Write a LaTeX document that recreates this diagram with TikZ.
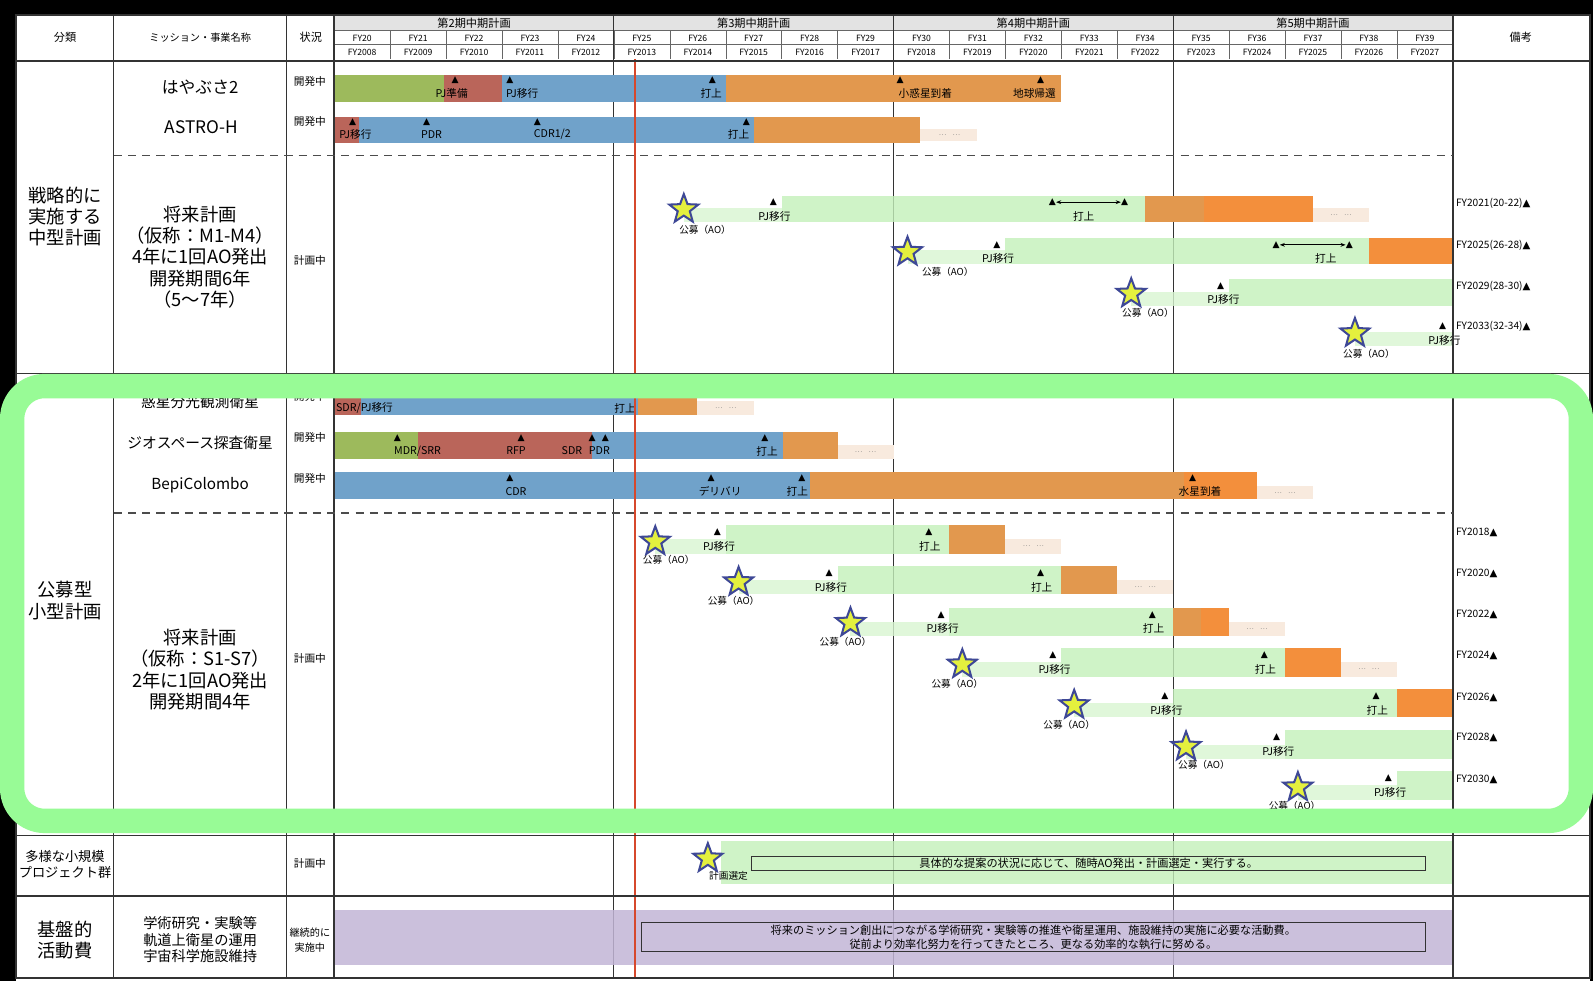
\documentclass[tikz,border=0pt]{standalone}
\usepackage{fontspec}
\setmainfont{Noto Sans CJK JP}
\newfontfamily\symf{DejaVu Sans}
\usetikzlibrary{shapes.geometric,arrows.meta}

\definecolor{devgreen}{RGB}{157,186,92}
\definecolor{devred}{RGB}{186,101,90}
\definecolor{devblue}{RGB}{112,162,202}
\definecolor{devorange}{RGB}{226,152,78}
\definecolor{hotorange}{RGB}{243,143,60}
\definecolor{tailbeige}{RGB}{248,234,222}
\definecolor{planthin}{RGB}{217,246,209}
\definecolor{plantall}{RGB}{196,240,186}
\definecolor{basepurple}{RGB}{194,181,214}
\definecolor{todayred}{RGB}{214,72,44}
\definecolor{framegreen}{RGB}{152,251,150}
\definecolor{staryellow}{RGB}{228,240,62}
\definecolor{starblue}{RGB}{62,72,150}

\tikzset{
  hdr/.style={inner sep=0, font=\fontsize{11}{13}\selectfont},
  fyl/.style={inner sep=0, font=\fontsize{8.5}{10}\selectfont},
  cat/.style={inner sep=0, align=center, font=\fontsize{18}{21}\selectfont},
  mission/.style={inner sep=0, font=\fontsize{15}{18}\selectfont},
  stat/.style={inner sep=0, align=center, font=\fontsize{10.5}{12}\selectfont},
  lbl/.style={inner sep=0, font=\fontsize{10.5}{11}\selectfont},
  tri/.style={inner sep=0, font=\symf\fontsize{9}{9}\selectfont},
  ao/.style={inner sep=0, font=\fontsize{9.5}{11}\selectfont},
  rem/.style={inner sep=0, anchor=west, font=\fontsize{10}{11}\selectfont},
  tailtxt/.style={inner sep=0, text=black!55, font=\fontsize{7}{7}\selectfont},
  thinbar/.style={fill=planthin, fill opacity=.8},
  tallbar/.style={fill=plantall, fill opacity=.8},
  aostar/.style={star, star points=5, star point ratio=2.4, minimum size=30pt, inner sep=0,
    fill=staryellow, draw=starblue, line width=2pt},
  tabline/.style={draw=black!80, line width=1.2pt},
  rowcut/.style={draw=black!70, line width=1.6pt, dash pattern=on 8pt off 6pt},
  notebox/.style={draw=black!80, line width=1pt, inner sep=0, align=center}
}

\begin{document}
\begin{tikzpicture}[x=1pt, y=-1pt, >={Stealth[length=5pt]}]
\fill[black] (0,0) rectangle (1568,966);
\fill[white] (16,15) rectangle (1565,966);

\begin{scope}[shift={(329,0)}, x=55.05pt]
\fill[gray!22] (0,15) rectangle (20,30);
\node[hdr] (term2) at (2.5,22.5) {第2期中期計画};
\node[hdr] (term3) at (7.5,22.5) {第3期中期計画};
\node[hdr] (term4) at (12.5,22.5) {第4期中期計画};
\node[hdr] (term5) at (17.5,22.5) {第5期中期計画};
\draw[black!60] (0,30) -- (20,30) (0,44) -- (20,44);
\foreach \i [evaluate=\i as \h using int(20+\i), evaluate=\i as \w using int(2008+\i)] in {0,...,19} {
  \draw[black!60] (\i,30) -- (\i,58);
  \node[fyl] (fy\h) at (\i+0.5,37.5) {FY\h};
  \node[fyl] (fy\w) at (\i+0.5,51.5) {FY\w};
}
\foreach \t in {5,10,15} \draw[tabline, line width=0.8pt] (\t,15) -- (\t,963);

\fill[devgreen] (0,74) rectangle (1.96,100);
\fill[devred] (1.96,74) rectangle (3,100);
\fill[devblue] (3,74) rectangle (7,100);
\fill[devorange] (7,74) rectangle (13,100);
\node[tri] (hy-a) at (2.16,79) {▲};
\node[tri] (hy-b) at (3.14,79) {▲};
\node[tri] (hy-c) at (6.76,79) {▲};
\node[tri] (hy-d) at (10.12,79) {▲};
\node[tri] (hy-e) at (12.63,79) {▲};
\node[lbl] (hy-al) at (2.1,92) {PJ準備};
\node[lbl] (hy-bl) at (3.36,92) {PJ移行};
\node[lbl] (hy-cl) at (6.74,92) {打上};
\node[lbl] (hy-dl) at (10.57,92) {小惑星到着};
\node[lbl] (hy-el) at (12.52,92) {地球帰還};

\fill[devred] (0,115) rectangle (0.45,141);
\fill[devblue] (0.45,115) rectangle (7.5,141);
\fill[devorange] (7.5,115) rectangle (10.48,141);
\fill[tailbeige] (10.48,127) rectangle (11.5,139);
\node[tailtxt] (ah-tail) at (11,133) {…\hspace{6pt}…};
\node[tri] (ah-a) at (0.33,120) {▲};
\node[tri] (ah-b) at (1.65,120) {▲};
\node[tri] (ah-c) at (3.63,120) {▲};
\node[tri] (ah-d) at (7.37,120) {▲};
\node[lbl] (ah-al) at (0.38,132) {PJ移行};
\node[lbl] (ah-bl) at (1.74,132) {PDR};
\node[lbl] (ah-cl) at (3.9,132) {CDR1/2};
\node[lbl] (ah-dl) at (7.23,132) {打上};

\fill[thinbar] (6.25,205) rectangle (8,219);
\fill[tallbar] (8,193) rectangle (14.5,219);
\fill[devorange] (14.5,193) rectangle (15.55,219);
\fill[hotorange] (15.55,193) rectangle (17.5,219);
\fill[tailbeige] (17.5,205) rectangle (18.5,219);
\node[tailtxt] (m1-tail) at (18,212) {…\hspace{6pt}…};
\node[aostar] (m1-star) at (6.25,206) {};
\node[ao] (m1-ao) at (6.63,226) {公募（AO）};
\node[tri] (m1-pj) at (7.85,199) {▲};
\node[lbl] (m1-pjl) at (7.87,213) {PJ移行};
\node[tri] (m1-la) at (12.84,199) {▲};
\node[tri] (m1-lb) at (14.13,199) {▲};
\draw[<->, line width=0.8pt] (m1-la) -- (m1-lb);
\node[lbl] (m1-ll) at (13.4,213) {打上};

\fill[thinbar] (10.25,246) rectangle (12,260);
\fill[tallbar] (12,234) rectangle (18.5,260);
\fill[hotorange] (18.5,234) rectangle (20,260);
\node[aostar] (m2-star) at (10.25,248) {};
\node[ao] (m2-ao) at (10.97,268) {公募（AO）};
\node[tri] (m2-pj) at (11.85,241) {▲};
\node[lbl] (m2-pjl) at (11.87,254) {PJ移行};
\node[tri] (m2-la) at (16.84,241) {▲};
\node[tri] (m2-lb) at (18.15,241) {▲};
\draw[<->, line width=0.8pt] (m2-la) -- (m2-lb);
\node[lbl] (m2-ll) at (17.73,254) {打上};

\fill[thinbar] (14.25,287) rectangle (16,301);
\fill[tallbar] (16,275) rectangle (20,301);
\node[aostar] (m3-star) at (14.25,289) {};
\node[ao] (m3-ao) at (14.55,308) {公募（AO）};
\node[tri] (m3-pj) at (15.85,282) {▲};
\node[lbl] (m3-pjl) at (15.9,295) {PJ移行};

\fill[thinbar] (18.25,327) rectangle (20,341);
\node[aostar] (m4-star) at (18.25,328) {};
\node[ao] (m4-ao) at (18.5,348) {公募（AO）};
\node[tri] (m4-pj) at (19.82,321) {▲};
\node[lbl] (m4-pjl) at (19.85,335) {PJ移行};

\fill[devred] (0,382) rectangle (0.47,408);
\fill[devblue] (0.47,382) rectangle (5.43,408);
\fill[devorange] (5.43,382) rectangle (6.48,408);
\fill[tailbeige] (6.48,395) rectangle (7.5,408);
\node[tailtxt] (pl-tail) at (7,402) {…\hspace{6pt}…};
\node[tri] (pl-a) at (0.07,388) {▲};
\node[tri] (pl-b) at (5.32,388) {▲};
\node[lbl, anchor=west] (pl-al) at (0.03,402) {SDR/PJ移行};
\node[lbl] (pl-bl) at (5.2,402) {打上};

\fill[devgreen] (0,425) rectangle (1.49,452);
\fill[devred] (1.49,425) rectangle (4.61,452);
\fill[devblue] (4.61,425) rectangle (8.03,452);
\fill[devorange] (8.03,425) rectangle (9,452);
\fill[tailbeige] (9,438) rectangle (10,452);
\node[tailtxt] (gs-tail) at (9.5,445) {…\hspace{6pt}…};
\node[tri] (gs-a) at (1.13,431) {▲};
\node[tri] (gs-b) at (3.34,431) {▲};
\node[tri] (gs-c) at (4.61,431) {▲};
\node[tri] (gs-d) at (4.85,431) {▲};
\node[tri] (gs-e) at (7.7,431) {▲};
\node[lbl] (gs-al) at (1.49,444) {MDR/SRR};
\node[lbl] (gs-bl) at (3.25,444) {RFP};
\node[lbl] (gs-cl) at (4.25,444) {SDR};
\node[lbl] (gs-dl) at (4.74,444) {PDR};
\node[lbl] (gs-el) at (7.74,444) {打上};

\fill[devblue] (0,465) rectangle (8.5,491);
\fill[devorange] (8.5,465) rectangle (15.2,491);
\fill[hotorange] (15.2,465) rectangle (16.5,491);
\fill[tailbeige] (16.5,478) rectangle (17.5,491);
\node[tailtxt] (bc-tail) at (17,485) {…\hspace{6pt}…};
\node[tri] (bc-a) at (3.14,471) {▲};
\node[tri] (bc-b) at (6.74,471) {▲};
\node[tri] (bc-c) at (8.36,471) {▲};
\node[tri] (bc-d) at (15.35,471) {▲};
\node[lbl] (bc-al) at (3.25,484) {CDR};
\node[lbl] (bc-bl) at (6.9,484) {デリバリ};
\node[lbl] (bc-cl) at (8.28,484) {打上};
\node[lbl] (bc-dl) at (15.48,484) {水星到着};

\fill[thinbar] (5.74,531) rectangle (7,545);
\fill[tallbar] (7,517) rectangle (11,545);
\fill[devorange] (11,517) rectangle (12,545);
\fill[tailbeige] (12,531) rectangle (13,545);
\node[tailtxt] (s1-tail) at (12.5,538) {…\hspace{6pt}…};
\node[aostar] (s1-star) at (5.74,533) {};
\node[ao] (s1-ao) at (5.98,551) {公募（AO）};
\node[tri] (s1-pj) at (6.85,524) {▲};
\node[lbl] (s1-pjl) at (6.88,538) {PJ移行};
\node[tri] (s1-l) at (10.63,524) {▲};
\node[lbl] (s1-ll) at (10.65,538) {打上};

\fill[thinbar] (7.23,571) rectangle (9,585);
\fill[tallbar] (9,557) rectangle (13,585);
\fill[devorange] (13,557) rectangle (14,585);
\fill[tailbeige] (14,571) rectangle (15,585);
\node[tailtxt] (s2-tail) at (14.5,578) {…\hspace{6pt}…};
\node[aostar] (s2-star) at (7.23,573) {};
\node[ao] (s2-ao) at (7.14,591) {公募（AO）};
\node[tri] (s2-pj) at (8.85,564) {▲};
\node[lbl] (s2-pjl) at (8.88,578) {PJ移行};
\node[tri] (s2-l) at (12.63,564) {▲};
\node[lbl] (s2-ll) at (12.65,578) {打上};

\fill[thinbar] (9.23,612) rectangle (11,626);
\fill[tallbar] (11,598) rectangle (15,626);
\fill[devorange] (15,598) rectangle (15.5,626);
\fill[hotorange] (15.5,598) rectangle (16,626);
\fill[tailbeige] (16,612) rectangle (17,626);
\node[tailtxt] (s3-tail) at (16.5,619) {…\hspace{6pt}…};
\node[aostar] (s3-star) at (9.23,613) {};
\node[ao] (s3-ao) at (9.14,632) {公募（AO）};
\node[tri] (s3-pj) at (10.85,605) {▲};
\node[lbl] (s3-pjl) at (10.88,619) {PJ移行};
\node[tri] (s3-l) at (14.63,605) {▲};
\node[lbl] (s3-ll) at (14.65,619) {打上};

\fill[thinbar] (11.23,652) rectangle (13,666);
\fill[tallbar] (13,638) rectangle (17,666);
\fill[hotorange] (17,638) rectangle (18,666);
\fill[tailbeige] (18,652) rectangle (19,666);
\node[tailtxt] (s4-tail) at (18.5,659) {…\hspace{6pt}…};
\node[aostar] (s4-star) at (11.23,654) {};
\node[ao] (s4-ao) at (11.14,673) {公募（AO）};
\node[tri] (s4-pj) at (12.85,645) {▲};
\node[lbl] (s4-pjl) at (12.88,659) {PJ移行};
\node[tri] (s4-l) at (16.63,645) {▲};
\node[lbl] (s4-ll) at (16.65,659) {打上};

\fill[thinbar] (13.23,692) rectangle (15,706);
\fill[tallbar] (15,678) rectangle (19,706);
\fill[hotorange] (19,678) rectangle (20,706);
\node[aostar] (s5-star) at (13.23,694) {};
\node[ao] (s5-ao) at (13.14,713) {公募（AO）};
\node[tri] (s5-pj) at (14.85,685) {▲};
\node[lbl] (s5-pjl) at (14.88,699) {PJ移行};
\node[tri] (s5-l) at (18.63,685) {▲};
\node[lbl] (s5-ll) at (18.65,699) {打上};

\fill[thinbar] (15.23,733) rectangle (17,747);
\fill[tallbar] (17,719) rectangle (20,747);
\node[aostar] (s6-star) at (15.23,735) {};
\node[ao] (s6-ao) at (15.55,753) {公募（AO）};
\node[tri] (s6-pj) at (16.85,726) {▲};
\node[lbl] (s6-pjl) at (16.88,740) {PJ移行};

\fill[thinbar] (17.23,773) rectangle (19,787);
\fill[tallbar] (19,759) rectangle (20,787);
\node[aostar] (s7-star) at (17.23,775) {};
\node[ao] (s7-ao) at (17.17,793) {公募（AO）};
\node[tri] (s7-pj) at (18.85,766) {▲};
\node[lbl] (s7-pjl) at (18.88,780) {PJ移行};

\fill[tallbar] (6.92,828) rectangle (20,870);
\node[aostar] (v-star) at (6.68,845) {};
\node[ao] (v-sel) at (7.05,862) {計画選定};
\node[notebox, minimum width=663pt, minimum height=14pt, font=\fontsize{11}{12}\selectfont] (v-note) at (13.49,850) {具体的な提案の状況に応じて、随時AO発出・計画選定・実行する。};

\fill[basepurple, fill opacity=.85] (0,896) rectangle (20,950);
\node[notebox, minimum width=772pt, minimum height=29pt, font=\fontsize{11}{14}\selectfont] (b-note) at (12.5,922.5) {将来のミッション創出につながる学術研究・実験等の推進や衛星運用、施設維持の実施に必要な活動費。\\従前より効率化努力を行ってきたところ、更なる効率的な執行に努める。};

\draw[todayred, line width=2.4pt] (5.38,58) -- (5.38,962);
\end{scope}

\draw[tabline, line width=2pt] (16,15) rectangle (1565,963);
\draw[tabline] (112,15) -- (112,963) (282,15) -- (282,963);
\draw[tabline, line width=1.6pt] (329,15) -- (329,963) (1430,15) -- (1430,963);
\draw[tabline, line width=2pt] (16,60) -- (1565,60);
\draw[tabline] (16,368) -- (1565,368) (16,822) -- (1565,822) (16,882) -- (1565,882);
\draw[rowcut] (112,153) -- (1430,153) (112,505) -- (1430,505);

\node[hdr] (h-cls) at (64,37) {分類};
\node[hdr, font=\fontsize{10}{12}\selectfont] (h-msn) at (197,37) {ミッション・事業名称};
\node[hdr] (h-st) at (306,37) {状況};
\node[hdr] (h-rem) at (1497,37) {備考};

\node[cat] (c-mid) at (64,213) {戦略的に\\実施する\\中型計画};
\node[cat] (c-pub) at (64,591) {公募型\\小型計画};
\node[cat, font=\fontsize{13}{16}\selectfont] (c-var) at (64,851) {多様な小規模\\プロジェクト群};
\node[cat] (c-base) at (64,925) {基盤的\\活動費};

\node[mission, font=\fontsize{16.5}{18}\selectfont] (n-hyb) at (197,86) {はやぶさ2};
\node[mission, font=\fontsize{17}{18}\selectfont] (n-ah) at (198,125) {ASTRO-H};
\node[cat] (n-mfut) at (197,253) {将来計画\\（仮称：M1-M4）\\4年に1回AO発出\\開発期間6年\\（5～7年）};
\node[mission, font=\fontsize{14.5}{16}\selectfont] (n-pl) at (197,396) {惑星分光観測衛星};
\node[mission, font=\fontsize{14.5}{16}\selectfont] (n-gs) at (197,436) {ジオスペース探査衛星};
\node[mission] (n-bc) at (197,478) {BepiColombo};
\node[cat] (n-sfut) at (197,659) {将来計画\\（仮称：S1-S7）\\2年に1回AO発出\\開発期間4年};
\node[cat, font=\fontsize{14}{16.5}\selectfont] (n-base) at (197,925) {学術研究・実験等\\軌道上衛星の運用\\宇宙科学施設維持};

\node[stat] (st-hyb) at (305,80) {開発中};
\node[stat] (st-ah) at (305,120) {開発中};
\node[stat] (st-mfut) at (305,256) {計画中};
\node[stat] (st-pl) at (305,390) {開発中};
\node[stat] (st-gs) at (305,431) {開発中};
\node[stat] (st-bc) at (305,471) {開発中};
\node[stat] (st-sfut) at (305,648) {計画中};
\node[stat] (st-var) at (305,850) {計画中};
\node[stat, font=\fontsize{10}{15}\selectfont] (st-base) at (305,925) {継続的に\\実施中};

\node[rem] (r-m1) at (1433,200) {FY2021(20-22){\symf ▲}};
\node[rem] (r-m2) at (1433,241) {FY2025(26-28){\symf ▲}};
\node[rem] (r-m3) at (1433,282) {FY2029(28-30){\symf ▲}};
\node[rem] (r-m4) at (1433,321) {FY2033(32-34){\symf ▲}};
\node[rem] (r-s1) at (1433,524) {FY2018{\symf ▲}};
\node[rem] (r-s2) at (1433,564) {FY2020{\symf ▲}};
\node[rem] (r-s3) at (1433,605) {FY2022{\symf ▲}};
\node[rem] (r-s4) at (1433,645) {FY2024{\symf ▲}};
\node[rem] (r-s5) at (1433,686) {FY2026{\symf ▲}};
\node[rem] (r-s6) at (1433,726) {FY2028{\symf ▲}};
\node[rem] (r-s7) at (1433,767) {FY2030{\symf ▲}};

\draw[framegreen, line width=24pt, rounded corners=32pt] (12,380) rectangle (1556,808);
\end{tikzpicture}
\end{document}
